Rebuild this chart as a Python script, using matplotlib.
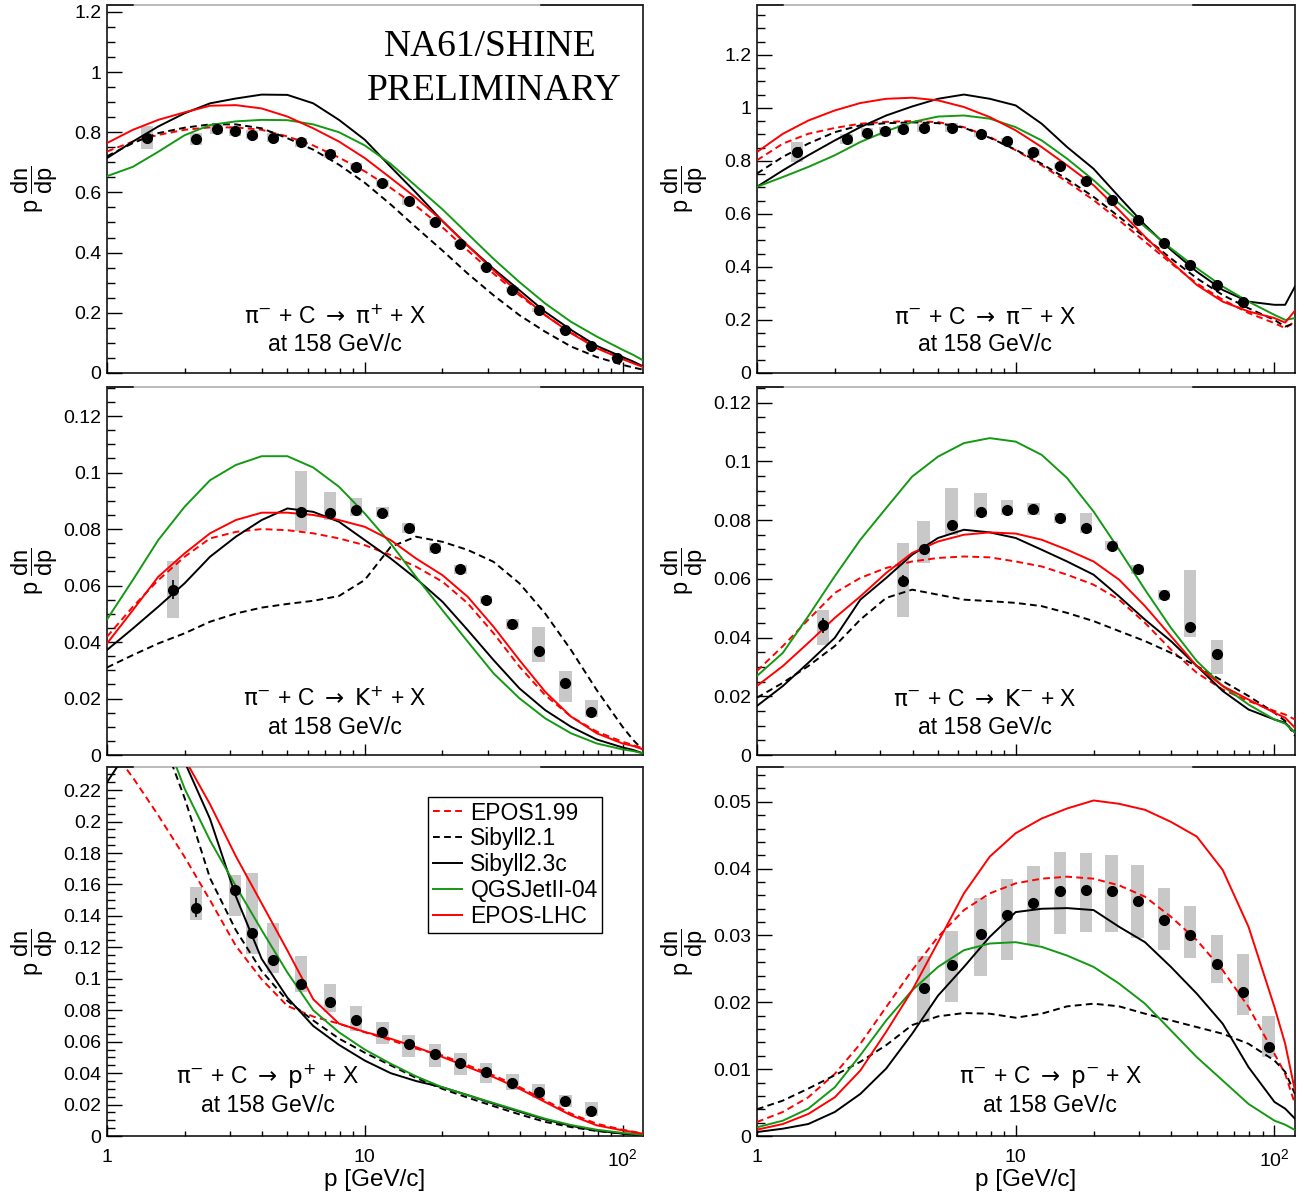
"""NA61/SHINE preliminary pi- + C spectra at 158 GeV/c compared with models."""
import matplotlib
matplotlib.use("Agg")
import matplotlib.pyplot as plt
from matplotlib.patches import Rectangle
from matplotlib.ticker import FixedLocator, LogLocator, MultipleLocator, FuncFormatter, NullFormatter

plt.rcParams["font.family"] = ["Liberation Sans", "DejaVu Sans"]
plt.rcParams["mathtext.fontset"] = "custom"
plt.rcParams["mathtext.rm"] = "Liberation Sans"
plt.rcParams["mathtext.it"] = "Liberation Sans:italic"
plt.rcParams["mathtext.bf"] = "Liberation Sans:bold"

# ---- model curves, all on one momentum grid ------------------------------
P_CURVE = [1.0, 1.26, 1.58, 2.0, 2.51, 3.16, 3.98, 5.01, 6.31, 7.94, 10.0, 12.6,
           15.8, 20.0, 25.1, 31.6, 39.8, 50.1, 63.1, 79.4, 100.0, 110.0, 120.0]

MODELS = ["EPOS1.99", "Sibyll2.1", "Sibyll2.3c", "QGSJetII-04", "EPOS-LHC"]

# pi- + C -> pi+ + X
PIP_EPOS199 = [0.736, 0.769, 0.791, 0.808, 0.816, 0.816, 0.808, 0.786, 0.756, 0.716, 0.670, 0.615,
               0.555, 0.484, 0.407, 0.330, 0.258, 0.192, 0.134, 0.086, 0.049, 0.035, 0.022]
PIP_SIB21 = [0.720, 0.764, 0.797, 0.815, 0.826, 0.826, 0.813, 0.780, 0.742, 0.692, 0.632, 0.560,
             0.484, 0.407, 0.330, 0.258, 0.192, 0.137, 0.088, 0.053, 0.027, 0.018, 0.011]
PIP_SIB23C = [0.714, 0.769, 0.819, 0.863, 0.896, 0.912, 0.925, 0.924, 0.896, 0.841, 0.775, 0.685,
              0.599, 0.505, 0.423, 0.346, 0.275, 0.203, 0.143, 0.090, 0.053, 0.038, 0.022]
PIP_QGSJET = [0.654, 0.685, 0.735, 0.790, 0.824, 0.836, 0.841, 0.840, 0.826, 0.800, 0.756, 0.695,
              0.621, 0.544, 0.462, 0.379, 0.302, 0.231, 0.170, 0.121, 0.077, 0.060, 0.042]
PIP_EPOSLHC = [0.764, 0.808, 0.841, 0.866, 0.888, 0.890, 0.879, 0.852, 0.813, 0.769, 0.714, 0.648,
               0.582, 0.505, 0.423, 0.341, 0.264, 0.192, 0.132, 0.082, 0.046, 0.032, 0.020]

# pi- + C -> pi- + X
PIM_EPOS199 = [0.802, 0.865, 0.902, 0.924, 0.940, 0.947, 0.950, 0.946, 0.927, 0.890, 0.840, 0.783,
               0.721, 0.652, 0.576, 0.495, 0.414, 0.338, 0.276, 0.226, 0.188, 0.169, 0.194]
PIM_SIB21 = [0.752, 0.815, 0.865, 0.908, 0.934, 0.942, 0.945, 0.942, 0.925, 0.887, 0.842, 0.789,
             0.731, 0.664, 0.589, 0.511, 0.432, 0.357, 0.294, 0.244, 0.200, 0.175, 0.188]
PIM_SIB23C = [0.702, 0.764, 0.821, 0.877, 0.927, 0.971, 1.005, 1.034, 1.050, 1.034, 1.009, 0.940,
              0.852, 0.770, 0.664, 0.558, 0.464, 0.382, 0.313, 0.269, 0.257, 0.257, 0.326]
PIM_QGSJET = [0.702, 0.739, 0.777, 0.821, 0.871, 0.912, 0.946, 0.967, 0.971, 0.959, 0.927, 0.877,
              0.808, 0.727, 0.639, 0.551, 0.470, 0.395, 0.326, 0.269, 0.219, 0.200, 0.207]
PIM_EPOSLHC = [0.833, 0.902, 0.952, 0.990, 1.018, 1.034, 1.038, 1.028, 1.003, 0.965, 0.915, 0.852,
               0.783, 0.708, 0.614, 0.514, 0.420, 0.332, 0.269, 0.232, 0.207, 0.190, 0.235]

# pi- + C -> K+ + X
KP_EPOS199 = [0.0419, 0.0525, 0.0619, 0.0702, 0.0767, 0.0790, 0.0800, 0.0796, 0.0785, 0.0767, 0.0743, 0.0708,
              0.0667, 0.0614, 0.0537, 0.0431, 0.0313, 0.0212, 0.0136, 0.0083, 0.0047, 0.0035, 0.0024]
KP_SIB21 = [0.0310, 0.0354, 0.0395, 0.0431, 0.0472, 0.0501, 0.0522, 0.0535, 0.0546, 0.0563, 0.0620, 0.0737,
            0.0773, 0.0755, 0.0726, 0.0684, 0.0608, 0.0501, 0.0372, 0.0230, 0.0100, 0.0053, 0.0018]
KP_SIB23C = [0.0372, 0.0448, 0.0525, 0.0608, 0.0702, 0.0773, 0.0832, 0.0873, 0.0861, 0.0826, 0.0761, 0.0696,
             0.0625, 0.0543, 0.0442, 0.0336, 0.0236, 0.0159, 0.0100, 0.0055, 0.0027, 0.0018, 0.0006]
KP_QGSJET = [0.0480, 0.0620, 0.0761, 0.0879, 0.0973, 0.1027, 0.1058, 0.1058, 0.1018, 0.0950, 0.0855, 0.0749,
             0.0631, 0.0513, 0.0401, 0.0289, 0.0201, 0.0130, 0.0077, 0.0041, 0.0020, 0.0014, 0.0006]
KP_EPOSLHC = [0.0395, 0.0513, 0.0631, 0.0714, 0.0785, 0.0832, 0.0858, 0.0858, 0.0850, 0.0832, 0.0808, 0.0761,
              0.0696, 0.0637, 0.0560, 0.0454, 0.0336, 0.0224, 0.0136, 0.0077, 0.0041, 0.0032, 0.0020]

# pi- + C -> K- + X
KM_EPOS199 = [0.0286, 0.0371, 0.0461, 0.0552, 0.0603, 0.0637, 0.0659, 0.0671, 0.0676, 0.0673, 0.0659, 0.0642,
              0.0614, 0.0580, 0.0529, 0.0450, 0.0359, 0.0280, 0.0223, 0.0184, 0.0150, 0.0138, 0.0121]
KM_SIB21 = [0.0195, 0.0246, 0.0303, 0.0371, 0.0461, 0.0535, 0.0563, 0.0546, 0.0529, 0.0524, 0.0518, 0.0507,
            0.0484, 0.0456, 0.0422, 0.0388, 0.0348, 0.0303, 0.0252, 0.0201, 0.0144, 0.0116, 0.0065]
KM_SIB23C = [0.0167, 0.0235, 0.0314, 0.0399, 0.0529, 0.0603, 0.0682, 0.0739, 0.0767, 0.0758, 0.0739, 0.0699,
             0.0659, 0.0614, 0.0540, 0.0461, 0.0388, 0.0303, 0.0218, 0.0155, 0.0121, 0.0110, 0.0076]
KM_QGSJET = [0.0269, 0.0348, 0.0473, 0.0609, 0.0733, 0.0841, 0.0948, 0.1016, 0.1062, 0.1079, 0.1067, 0.1022,
             0.0943, 0.0829, 0.0699, 0.0563, 0.0433, 0.0320, 0.0235, 0.0172, 0.0121, 0.0107, 0.0076]
KM_EPOSLHC = [0.0235, 0.0303, 0.0382, 0.0467, 0.0540, 0.0620, 0.0688, 0.0727, 0.0750, 0.0758, 0.0754, 0.0733,
              0.0699, 0.0659, 0.0597, 0.0507, 0.0405, 0.0303, 0.0235, 0.0189, 0.0144, 0.0127, 0.0093]

# pi- + C -> p + X
PR_EPOS199 = [0.250, 0.228, 0.204, 0.1775, 0.150, 0.121, 0.0997, 0.0827, 0.0760, 0.0715, 0.0660, 0.0610,
              0.0556, 0.0513, 0.0450, 0.0386, 0.0312, 0.0227, 0.0142, 0.0078, 0.0040, 0.0028, 0.0015]
PR_SIB21 = [0.280, 0.290, 0.260, 0.215, 0.164, 0.131, 0.105, 0.086, 0.0735, 0.0620, 0.0530, 0.0450,
            0.0370, 0.0300, 0.0244, 0.0190, 0.0138, 0.0090, 0.0057, 0.0032, 0.0015, 0.0009, 0.0004]
PR_SIB23C = [0.225, 0.250, 0.270, 0.238, 0.2017, 0.1525, 0.1127, 0.088, 0.0700, 0.0580, 0.0480, 0.0400,
             0.0350, 0.0310, 0.0260, 0.0205, 0.0155, 0.0105, 0.0065, 0.0035, 0.0015, 0.0010, 0.0004]
PR_QGSJET = [0.270, 0.280, 0.265, 0.221, 0.188, 0.159, 0.131, 0.104, 0.0800, 0.0660, 0.0550, 0.0460,
             0.0380, 0.0310, 0.0260, 0.0210, 0.0160, 0.0110, 0.0070, 0.0040, 0.0020, 0.0014, 0.0008]
PR_EPOSLHC = [0.270, 0.290, 0.280, 0.240, 0.211, 0.178, 0.148, 0.118, 0.0870, 0.0715, 0.0662, 0.0619,
              0.0566, 0.0503, 0.0439, 0.0375, 0.0301, 0.0216, 0.0132, 0.0068, 0.0036, 0.0025, 0.0015]

# pi- + C -> anti-p + X
PB_EPOS199 = [0.0021, 0.0036, 0.0058, 0.0093, 0.0138, 0.0193, 0.0248, 0.0298, 0.0338, 0.0363, 0.0378, 0.0385,
              0.0388, 0.0385, 0.0375, 0.0358, 0.0328, 0.0293, 0.0248, 0.0193, 0.0123, 0.0093, 0.0048]
PB_SIB21 = [0.0040, 0.0053, 0.0071, 0.0091, 0.0111, 0.0136, 0.0166, 0.0179, 0.0184, 0.0183, 0.0177, 0.0183,
            0.0194, 0.0198, 0.0194, 0.0183, 0.0173, 0.0163, 0.0153, 0.0138, 0.0113, 0.0096, 0.0063]
PB_SIB23C = [0.0006, 0.0011, 0.0018, 0.0036, 0.0063, 0.0101, 0.0153, 0.0210, 0.0253, 0.0298, 0.0335, 0.0340,
             0.0341, 0.0338, 0.0313, 0.0290, 0.0253, 0.0213, 0.0168, 0.0103, 0.0051, 0.0041, 0.0026]
PB_QGSJET = [0.0013, 0.0023, 0.0041, 0.0073, 0.0121, 0.0173, 0.0218, 0.0253, 0.0278, 0.0288, 0.0290, 0.0283,
             0.0270, 0.0253, 0.0228, 0.0198, 0.0158, 0.0118, 0.0083, 0.0048, 0.0023, 0.0017, 0.0009]
PB_EPOSLHC = [0.00095, 0.0018, 0.0033, 0.0058, 0.0098, 0.0156, 0.0218, 0.0290, 0.0363, 0.0418, 0.0453, 0.0475,
              0.0490, 0.0502, 0.0497, 0.0488, 0.0470, 0.0448, 0.0398, 0.0313, 0.0193, 0.0138, 0.0068]

# ---- NA61/SHINE measurements --------------------------------------------
P_PIP = [1.43, 2.22, 2.66, 3.13, 3.66, 4.41, 5.65, 7.32, 9.27, 11.7, 14.8, 18.7, 23.5, 29.6, 37.4, 47.2, 60.0, 75.7, 95.0]
Y_PIP = [0.782, 0.779, 0.810, 0.804, 0.791, 0.782, 0.767, 0.727, 0.685, 0.630, 0.570, 0.503, 0.429, 0.352,
         0.277, 0.209, 0.143, 0.090, 0.049]
STAT_PIP = [0.006, 0.005, 0.004, 0.004, 0.004, 0.004, 0.004, 0.004, 0.004, 0.004, 0.003, 0.003, 0.003, 0.003,
            0.003, 0.002, 0.002, 0.002, 0.002]
SYS_UP_PIP = [0.037, 0.020, 0.015, 0.015, 0.015, 0.015, 0.015, 0.013, 0.012, 0.012, 0.011, 0.010, 0.009, 0.008,
              0.007, 0.006, 0.005, 0.004, 0.003]
SYS_DN_PIP = SYS_UP_PIP

P_PIM = [1.43, 2.22, 2.66, 3.13, 3.66, 4.41, 5.65, 7.32, 9.27, 11.7, 14.8, 18.7, 23.5, 29.6, 37.4, 47.2, 60.0, 75.7]
Y_PIM = [0.833, 0.882, 0.906, 0.911, 0.920, 0.924, 0.925, 0.901, 0.873, 0.832, 0.782, 0.723, 0.652, 0.575,
         0.490, 0.406, 0.330, 0.268]
STAT_PIM = [0.006, 0.005, 0.004, 0.004, 0.004, 0.004, 0.004, 0.004, 0.004, 0.004, 0.003, 0.003, 0.003, 0.003,
            0.003, 0.002, 0.002, 0.002]
SYS_UP_PIM = [0.039, 0.020, 0.018, 0.016, 0.016, 0.016, 0.016, 0.013, 0.012, 0.012, 0.011, 0.010, 0.009, 0.008,
              0.007, 0.006, 0.005, 0.004]
SYS_DN_PIM = SYS_UP_PIM

P_KP = [1.80, 5.65, 7.32, 9.27, 11.7, 14.8, 18.7, 23.5, 29.6, 37.4, 47.2, 60.0, 75.7]
Y_KP = [0.0586, 0.0861, 0.0858, 0.0867, 0.0858, 0.0804, 0.0732, 0.0657, 0.0549, 0.0465, 0.0367, 0.0254, 0.0151]
STAT_KP = [0.0032, 0.0012, 0.0010, 0.0008, 0.0008, 0.0007, 0.0007, 0.0006, 0.0006, 0.0006, 0.0006, 0.0006, 0.0006]
SYS_UP_KP = [0.0102, 0.0144, 0.0073, 0.0043, 0.0021, 0.0016, 0.0017, 0.0015, 0.0014, 0.0018, 0.0086, 0.0043, 0.0044]
SYS_DN_KP = [0.0102, 0.0067, 0.0026, 0.0021, 0.0017, 0.0017, 0.0017, 0.0015, 0.0014, 0.0018, 0.0038, 0.0066, 0.0015]

P_KM = [1.80, 3.66, 4.41, 5.65, 7.32, 9.27, 11.7, 14.8, 18.7, 23.5, 29.6, 37.4, 47.2, 60.0]
Y_KM = [0.0442, 0.0593, 0.0700, 0.0782, 0.0827, 0.0834, 0.0836, 0.0806, 0.0772, 0.0713, 0.0632, 0.0546,
        0.0437, 0.0344]
STAT_KM = [0.0025, 0.0020, 0.0012, 0.0010, 0.0008, 0.0008, 0.0007, 0.0007, 0.0007, 0.0006, 0.0006, 0.0006,
           0.0006, 0.0006]
SYS_UP_KM = [0.0053, 0.0130, 0.0098, 0.0128, 0.0066, 0.0035, 0.0023, 0.0017, 0.0053, 0.0015, 0.0015, 0.0017,
             0.0194, 0.0046]
SYS_DN_KM = [0.0068, 0.0124, 0.0047, 0.0032, 0.0018, 0.0016, 0.0018, 0.0017, 0.0016, 0.0015, 0.0015, 0.0017,
             0.0036, 0.0068]

P_PR = [2.22, 3.13, 3.66, 4.41, 5.65, 7.32, 9.27, 11.7, 14.8, 18.7, 23.5, 29.6, 37.4, 47.2, 60.0, 75.7]
Y_PR = [0.1451, 0.1568, 0.1294, 0.1118, 0.0967, 0.0855, 0.0740, 0.0664, 0.0583, 0.0520, 0.0467, 0.0405,
        0.0337, 0.0282, 0.0221, 0.0157]
STAT_PR = [0.0060, 0.0030, 0.0025, 0.0020, 0.0015, 0.0012, 0.0010, 0.0010, 0.0008, 0.0008, 0.0007, 0.0007,
           0.0006, 0.0006, 0.0006, 0.0006]
SYS_UP_PR = [0.0132, 0.0091, 0.0382, 0.0240, 0.0181, 0.0110, 0.0089, 0.0059, 0.0062, 0.0063, 0.0063, 0.0057,
             0.0055, 0.0047, 0.0040, 0.0057]
SYS_DN_PR = [0.0079, 0.0168, 0.0134, 0.0081, 0.0051, 0.0068, 0.0072, 0.0081, 0.0080, 0.0081, 0.0081, 0.0066,
             0.0046, 0.0038, 0.0036, 0.0030]

P_PB = [4.41, 5.65, 7.32, 9.27, 11.7, 14.8, 18.7, 23.5, 29.6, 37.4, 47.2, 60.0, 75.7, 95.0]
Y_PB = [0.0222, 0.0256, 0.0302, 0.0330, 0.0349, 0.0367, 0.0368, 0.0366, 0.0352, 0.0323, 0.0300, 0.0257,
        0.0215, 0.0133]
STAT_PB = [0.0006, 0.0005, 0.0005, 0.0005, 0.0005, 0.0005, 0.0005, 0.0005, 0.0005, 0.0005, 0.0005, 0.0005,
           0.0005, 0.0005]
SYS_UP_PB = [0.0047, 0.0051, 0.0054, 0.0054, 0.0055, 0.0058, 0.0055, 0.0055, 0.0053, 0.0048, 0.0044, 0.0043,
             0.0057, 0.0046]
SYS_DN_PB = [0.0051, 0.0055, 0.0063, 0.0066, 0.0063, 0.0065, 0.0063, 0.0061, 0.0056, 0.0045, 0.0034, 0.0028,
             0.0034, 0.0015]

# ---- styles -------------------------------------------------------------
RED = "#ff0000"
GREEN = "#139913"
STYLES = {
    "EPOS1.99": dict(color=RED, dashes=(3.5, 2.2)),
    "Sibyll2.1": dict(color="black", dashes=(3.5, 2.2)),
    "Sibyll2.3c": dict(color="black", linestyle="-"),
    "QGSJetII-04": dict(color=GREEN, linestyle="-"),
    "EPOS-LHC": dict(color=RED, linestyle="-"),
}


def reaction(prod):
    return r"$\mathrm{\pi}^{-}$ + C $\rightarrow$ " + prod + " + X"


PANELS = [
    dict(pos=(0.082, 0.6892, 0.4107, 0.3067), ylim=1.223, major=0.2, minor=0.05,
         curves=[PIP_EPOS199, PIP_SIB21, PIP_SIB23C, PIP_QGSJET, PIP_EPOSLHC],
         data=(P_PIP, Y_PIP, STAT_PIP, SYS_UP_PIP, SYS_DN_PIP),
         reaction=reaction(r"$\mathrm{\pi}^{+}$"), lab_xy=(0.425, 0.152)),
    dict(pos=(0.580, 0.6892, 0.4123, 0.3067), ylim=1.388, major=0.2, minor=0.05,
         curves=[PIM_EPOS199, PIM_SIB21, PIM_SIB23C, PIM_QGSJET, PIM_EPOSLHC],
         data=(P_PIM, Y_PIM, STAT_PIM, SYS_UP_PIM, SYS_DN_PIM),
         reaction=reaction(r"$\mathrm{\pi}^{-}$"), lab_xy=(0.424, 0.152)),
    dict(pos=(0.082, 0.3708, 0.4107, 0.3067), ylim=0.1303, major=0.02, minor=0.005,
         curves=[KP_EPOS199, KP_SIB21, KP_SIB23C, KP_QGSJET, KP_EPOSLHC],
         data=(P_KP, Y_KP, STAT_KP, SYS_UP_KP, SYS_DN_KP),
         reaction=reaction(r"$\mathrm{K}^{+}$"), lab_xy=(0.425, 0.152)),
    dict(pos=(0.580, 0.3708, 0.4123, 0.3067), ylim=0.1253, major=0.02, minor=0.005,
         curves=[KM_EPOS199, KM_SIB21, KM_SIB23C, KM_QGSJET, KM_EPOSLHC],
         data=(P_KM, Y_KM, STAT_KM, SYS_UP_KM, SYS_DN_KM),
         reaction=reaction(r"$\mathrm{K}^{-}$"), lab_xy=(0.424, 0.152)),
    dict(pos=(0.082, 0.0533, 0.4107, 0.3075), ylim=0.2347, major=0.02, minor=0.005,
         curves=[PR_EPOS199, PR_SIB21, PR_SIB23C, PR_QGSJET, PR_EPOSLHC],
         data=(P_PR, Y_PR, STAT_PR, SYS_UP_PR, SYS_DN_PR),
         reaction=reaction(r"$\mathrm{p}^{+}$"), lab_xy=(0.30, 0.16)),
    dict(pos=(0.580, 0.0533, 0.4123, 0.3075), ylim=0.0552, major=0.01, minor=0.002,
         curves=[PB_EPOS199, PB_SIB21, PB_SIB23C, PB_QGSJET, PB_EPOSLHC],
         data=(P_PB, Y_PB, STAT_PB, SYS_UP_PB, SYS_DN_PB),
         reaction=reaction(r"$\mathrm{p}^{-}$"), lab_xy=(0.545, 0.16)),
]

BOX_HALF_DEC = 0.024  # half width of the systematic boxes in decades


def draw_panel(fig, cfg, bottom_row):
    ax = fig.add_axes(cfg["pos"])
    ax.set_xscale("log")
    ax.set_xlim(1, 120)
    ax.set_ylim(0, cfg["ylim"])

    p, y, stat, up, dn = cfg["data"]
    for pi, yi, u, d in zip(p, y, up, dn):
        lo = pi * 10 ** (-BOX_HALF_DEC)
        hi = pi * 10 ** BOX_HALF_DEC
        ax.add_patch(Rectangle((lo, yi - d), hi - lo, u + d, facecolor="#c8c8c8",
                               edgecolor="none", zorder=2))

    lines = []
    for name, vals in zip(MODELS, cfg["curves"]):
        ln, = ax.plot(P_CURVE, vals, lw=1.4, label=name, zorder=3, **STYLES[name])
        lines.append(ln)

    ax.errorbar(p, y, yerr=stat, fmt="o", ms=7, color="black", elinewidth=1.2,
                capsize=0, zorder=5)

    # axes / ticks in ROOT style
    ax.xaxis.set_major_locator(FixedLocator([1, 10, 100]))
    ax.xaxis.set_minor_locator(LogLocator(base=10, subs=[2, 3, 4, 5, 6, 7, 8, 9]))
    ax.xaxis.set_minor_formatter(NullFormatter())
    if bottom_row:
        ax.set_xticklabels(["1", "10", r"$\mathregular{10^{2}}$"])
        ax.set_xlabel("p [GeV/c]", fontsize=17.5)
        ax.xaxis.set_label_coords(0.5, -0.09)
    else:
        ax.set_xticklabels([])
    ax.yaxis.set_major_locator(MultipleLocator(cfg["major"]))
    ax.yaxis.set_minor_locator(MultipleLocator(cfg["minor"]))
    ax.yaxis.set_major_formatter(FuncFormatter(lambda v, _: f"{v:.3g}"))
    ax.tick_params(which="both", direction="in", top=False, right=False, width=1.0,
                   labelsize=14)
    ax.tick_params(axis="y", which="major", length=10.8, pad=4)
    ax.tick_params(axis="y", which="minor", length=5.8)
    ax.tick_params(axis="x", which="major", length=7.7, pad=9)
    ax.tick_params(axis="x", which="minor", length=3.8)
    for s in ax.spines.values():
        s.set_linewidth(1.1)
    ax.spines["top"].set_color("#a8a8a8")
    for x0, x1 in [(0.0, 0.048), (0.81, 1.0)]:
        ax.plot([x0, x1], [1, 1], transform=ax.transAxes, color="black", lw=1.1,
                clip_on=False, zorder=6)

    ax.set_ylabel(r"$\mathrm{p}\ \dfrac{\mathrm{dn}}{\mathrm{dp}}$", fontsize=17)
    ax.yaxis.set_label_coords(-0.087, 0.5)

    lx, ly = cfg["lab_xy"]
    ax.text(lx, ly, cfg["reaction"], transform=ax.transAxes, ha="center", va="center",
            fontsize=16.5, math_fontfamily="dejavusans")
    ax.text(lx, ly - 0.076, "at 158 GeV/c", transform=ax.transAxes, ha="center",
            va="center", fontsize=16.5)
    return ax, lines


fig = plt.figure(figsize=(13.05, 12.0), dpi=100)
axes = []
for i, cfg in enumerate(PANELS):
    axes.append(draw_panel(fig, cfg, bottom_row=i >= 4))

ax0 = axes[0][0]
ax0.text(0.715, 0.886, "NA61/SHINE", transform=ax0.transAxes, ha="center", va="center",
         fontsize=27, family="Liberation Serif")
ax0.text(0.722, 0.766, "PRELIMINARY", transform=ax0.transAxes, ha="center", va="center",
         fontsize=27, family="Liberation Serif")

ax_pr, pr_lines = axes[4]
leg = ax_pr.legend(handles=pr_lines, loc="upper left", bbox_to_anchor=(0.599, 0.919),
                   borderaxespad=0, fontsize=16.5, frameon=True, fancybox=False,
                   framealpha=1, edgecolor="black", labelspacing=0.13, borderpad=0.2,
                   handlelength=1.3, handletextpad=0.35)
leg.get_frame().set_linewidth(1.0)
leg.set_zorder(10)

fig.savefig("out.png", dpi=100)
